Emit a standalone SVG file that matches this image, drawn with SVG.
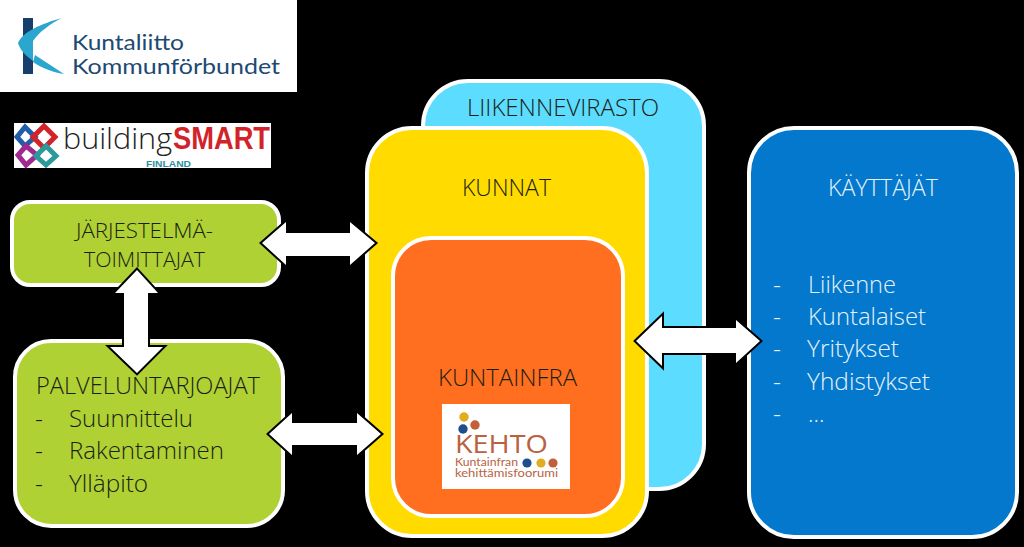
<svg xmlns="http://www.w3.org/2000/svg" width="1024" height="547" viewBox="0 0 1024 547">
<style>
text{font-family:"Open Sans","Liberation Sans",sans-serif;font-weight:300;fill:#1a1f14}
.b{stroke:#fff;stroke-width:4}
.a{fill:#fff;stroke:#000;stroke-width:4;stroke-linejoin:miter;paint-order:stroke}
.t{font-size:23px}
.l{fill:#e6f3fb}
.k{font-family:Lato,"Liberation Sans",sans-serif;font-weight:400;fill:#1d4a73;font-size:22px}
.h{font-family:Lato,"Liberation Sans",sans-serif;font-weight:400;fill:#b9623f;font-size:11px}
</style>
<rect width="1024" height="547" fill="#000"/>
<g id="logo-kuntaliitto">
<rect width="297" height="92" fill="#fff"/>
<rect x="23" y="18" width="10" height="56" fill="#173f6e"/>
<path d="M62 18C40 24 23 32 18 43C20 50 26 56 33 61L33 41C39 32 50 24 62 18Z" fill="#2ba6cf"/>
<path d="M35 55L64 74C52 72 42 68 33 62Z" fill="#2ba6cf"/>
<text class="k" x="72" y="50" textLength="112" lengthAdjust="spacingAndGlyphs">Kuntaliitto</text>
<text class="k" x="72" y="74" textLength="208" lengthAdjust="spacingAndGlyphs">Kommunförbundet</text>
</g>
<g id="logo-buildingsmart">
<rect x="14" y="123" width="257" height="45" fill="#fff"/>
<g fill="none" stroke-width="5">
<path d="M25 127L17 137L25 146L35 137Z" stroke="#1f5ea8"/>
<path d="M44 126L55 137L44 148L33 137Z" stroke="#d2232a"/>
<path d="M26 146L18 155L26 165L37 155Z" stroke="#a0288f"/>
<path d="M46 146L56 156L46 165L36 156Z" stroke="#2a9a9a"/>
</g>
<text x="63" y="149" font-size="29" style="font-family:'Open Sans','Liberation Sans',sans-serif;font-weight:300;fill:#222" textLength="109" lengthAdjust="spacingAndGlyphs">building</text>
<text x="173" y="149" font-size="32" style="font-family:'Liberation Sans',sans-serif;font-weight:700;fill:#d2232a" textLength="97" lengthAdjust="spacingAndGlyphs">SMART</text>
<text x="146" y="167" font-size="9.5" style="font-family:'Liberation Sans',sans-serif;font-weight:700;fill:#2d8f9c" textLength="45" lengthAdjust="spacingAndGlyphs">FINLAND</text>
</g>
<g id="node-liikennevirasto">
<rect class="b" x="423" y="81" width="281" height="408" rx="45" fill="#5cdcff"/>
<text class="t" x="467" y="116" textLength="192" lengthAdjust="spacingAndGlyphs">LIIKENNEVIRASTO</text>
</g>
<g id="node-kunnat">
<rect class="b" x="367" y="128" width="280" height="408" rx="45" fill="#ffdb00"/>
<text class="t" x="462" y="196" textLength="89" lengthAdjust="spacingAndGlyphs">KUNNAT</text>
</g>
<g id="node-kuntainfra">
<rect class="b" x="393" y="238" width="230" height="278" rx="38" fill="#ff6f1f"/>
<text class="t" x="438" y="386" textLength="139" lengthAdjust="spacingAndGlyphs">KUNTAINFRA</text>
</g>
<g id="logo-kehto">
<rect x="442" y="404" width="128" height="85" fill="#fff"/>
<circle cx="464" cy="417" r="4.7" fill="#e0ad1e"/>
<circle cx="463" cy="429" r="4.7" fill="#1e4f8c"/>
<circle cx="475" cy="425" r="4.7" fill="#c2603a"/>
<text x="455" y="453" font-size="25" style="font-family:'Open Sans','Liberation Sans',sans-serif;font-weight:400;fill:#b9623f" textLength="93" lengthAdjust="spacingAndGlyphs">KEHTO</text>
<text class="h" x="455" y="466" textLength="63" lengthAdjust="spacingAndGlyphs">Kuntainfran</text>
<circle cx="527" cy="463" r="4.6" fill="#1e4f8c"/>
<circle cx="541" cy="463" r="4.6" fill="#e0ad1e"/>
<circle cx="553" cy="463" r="4.6" fill="#c2603a"/>
<text class="h" x="455" y="477" textLength="103" lengthAdjust="spacingAndGlyphs">kehittämisfoorumi</text>
</g>
<g id="node-kayttajat">
<rect class="b" x="749" y="128" width="268" height="409" rx="45" fill="#0478cc"/>
<text class="t l" x="828" y="196" textLength="110" lengthAdjust="spacingAndGlyphs">KÄYTTÄJÄT</text>
<text class="t l" x="773" y="293" textLength="8" lengthAdjust="spacingAndGlyphs">-</text><text class="t l" x="808" y="293" textLength="88" lengthAdjust="spacingAndGlyphs">Liikenne</text>
<text class="t l" x="773" y="325" textLength="8" lengthAdjust="spacingAndGlyphs">-</text><text class="t l" x="808" y="325" textLength="118" lengthAdjust="spacingAndGlyphs">Kuntalaiset</text>
<text class="t l" x="773" y="357" textLength="8" lengthAdjust="spacingAndGlyphs">-</text><text class="t l" x="807" y="357" textLength="92" lengthAdjust="spacingAndGlyphs">Yritykset</text>
<text class="t l" x="773" y="390" textLength="8" lengthAdjust="spacingAndGlyphs">-</text><text class="t l" x="807" y="390" textLength="123" lengthAdjust="spacingAndGlyphs">Yhdistykset</text>
<text class="t l" x="773" y="422" textLength="8" lengthAdjust="spacingAndGlyphs">-</text><text class="t l" x="808" y="422">…</text>
</g>
<g id="node-jarjestelma">
<rect class="b" x="12" y="202" width="267" height="83" rx="18" fill="#b0d134"/>
<text x="76" y="238" font-size="20" textLength="137" lengthAdjust="spacingAndGlyphs">JÄRJESTELMÄ-</text>
<text x="84" y="267" font-size="20" textLength="121" lengthAdjust="spacingAndGlyphs">TOIMITTAJAT</text>
</g>
<g id="node-palvelu">
<rect class="b" x="15" y="341" width="268" height="185" rx="36" fill="#b0d134"/>
<text class="t" x="36" y="394" textLength="224" lengthAdjust="spacingAndGlyphs">PALVELUNTARJOAJAT</text>
<text class="t" x="35" y="427" textLength="8" lengthAdjust="spacingAndGlyphs">-</text><text class="t" x="69" y="427" textLength="124" lengthAdjust="spacingAndGlyphs">Suunnittelu</text>
<text class="t" x="35" y="459" textLength="8" lengthAdjust="spacingAndGlyphs">-</text><text class="t" x="69" y="459" textLength="155" lengthAdjust="spacingAndGlyphs">Rakentaminen</text>
<text class="t" x="35" y="492" textLength="8" lengthAdjust="spacingAndGlyphs">-</text><text class="t" x="69" y="492" textLength="79" lengthAdjust="spacingAndGlyphs">Ylläpito</text>
</g>
<g id="connectors">
<path class="a" d="M262 243L286 222V233H350V222L375 243L350 265V256H286V265Z"/>
<path class="a" d="M269 434L292 413V423H357V413L381 434L357 455V445H292V455Z"/>
<path class="a" d="M137 270L158 293H148V347H163L137 373L110 347H124V293H115Z"/>
<path class="a" d="M636 341L662 316V328H736V320L760 341L736 363V353H662V366Z"/>
</g>
</svg>
